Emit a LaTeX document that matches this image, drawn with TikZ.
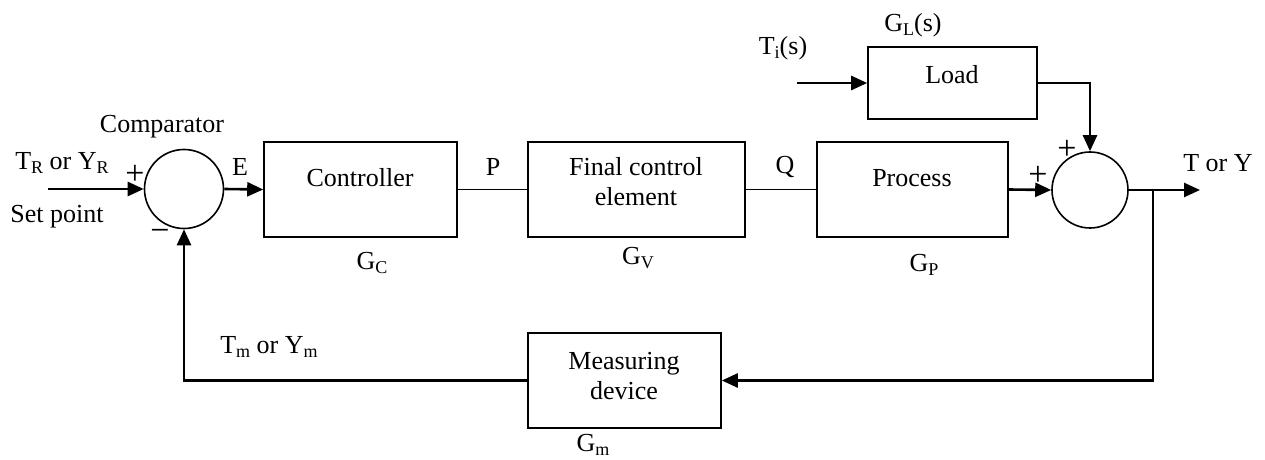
\documentclass[tikz,border=0pt]{standalone}
\usepackage{fontspec}
\setmainfont{Liberation Serif}
\usetikzlibrary{arrows.meta,calc}
\newcommand\sbx[1]{\raisebox{-0.35ex}{\fontsize{9}{9}\selectfont #1}}
\begin{document}
\begin{tikzpicture}[x=0.5pt,y=-0.5pt,
  every node/.style={font=\fontsize{13}{15}\selectfont},
  blk/.style={draw,line width=0.8pt,inner sep=0pt},
  sumc/.style={draw,circle,line width=0.8pt,inner sep=0pt},
  txt/.style={inner sep=0pt,align=center},
  sgn/.style={inner sep=0pt,font=\fontsize{17}{17}\selectfont},
  arr/.style={line width=1.3pt,-{Triangle[length=8pt,width=7pt]}},
  wire/.style={line width=0.8pt}]
\useasboundingbox (0,0) rectangle (1265,460);
% blocks
\node[sumc,minimum size=39.5pt] (comp) at (184,189) {};
\node[sumc,minimum size=38pt] (sum) at (1090,190) {};
\node[blk,minimum width=96.5pt,minimum height=47.5pt] (ctrl) at (360.5,189.5) {};
\node[blk,minimum width=108.5pt,minimum height=47.5pt] (fce) at (636.5,189.5) {};
\node[blk,minimum width=95.5pt,minimum height=47.5pt] (proc) at (912.5,189.5) {};
\node[blk,minimum width=84.5pt,minimum height=36pt] (load) at (952.5,83) {};
\node[blk,minimum width=96.5pt,minimum height=47.5pt] (meas) at (624.5,380.5) {};
% texts in blocks
\node[txt] (tctrl) at (360,178) {Controller};
\node[txt] (tfce) at (636,182) {Final control\\element};
\node[txt] (tproc) at (912,178) {Process};
\node[txt] (tload) at (952,75) {Load};
\node[txt] (tmeas) at (624,376) {Measuring\\device};
% labels
\node[txt] (lcomp) at (162,127) {Comparator};
\node[txt] (lref) at (62,163) {T\sbx{R} or Y\sbx{R}};
\node[txt] (lset) at (57,217) {Set point};
\node[sgn] (lplus1) at (135,175) {+};
\node[sgn] (lminus1) at (160,235) {\textminus};
\node[txt] (lE) at (240,167) {E};
\node[txt] (lP) at (493,167) {P};
\node[txt] (lQ) at (785,167) {Q};
\node[txt] (lGC) at (372,263) {G\sbx{C}};
\node[txt] (lGV) at (638,258) {G\sbx{V}};
\node[txt] (lGP) at (924,265) {G\sbx{P}};
\node[txt] (lGL) at (913,25) {G\sbx{L}(s)};
\node[txt] (lTi) at (783,48) {T\sbx{i}(s)};
\node[sgn] (lplus2) at (1038,176) {+};
\node[sgn] (lplus3) at (1067,150) {+};
\node[txt] (lout) at (1218,163) {T or Y};
\node[txt] (lTm) at (269,347) {T\sbx{m} or Y\sbx{m}};
\node[txt] (lGm) at (593,445) {G\sbx{m}};
% coordinates
\coordinate (in) at (48,189);
\coordinate (tiin) at (797,83);
\coordinate (out) at (1200,190);
\coordinate (br) at (1153,190);
% connectors
\draw[arr] (in) -- (comp.west);
\draw[arr] (comp.east) -- (ctrl.west);
\draw[wire] (ctrl.east) -- (fce.west);
\draw[wire] (fce.east) -- (proc.west);
\draw[arr] (proc.east) -- (sum.west);
\draw[arr] (tiin) -- (load.west);
\draw[arr] (load.east) -| (sum.north);
\draw[arr] (sum.east) -- (out);
\draw[arr] (br) |- (meas.east);
\draw[arr] (meas.west) -| (comp.south);
\end{tikzpicture}
\end{document}
